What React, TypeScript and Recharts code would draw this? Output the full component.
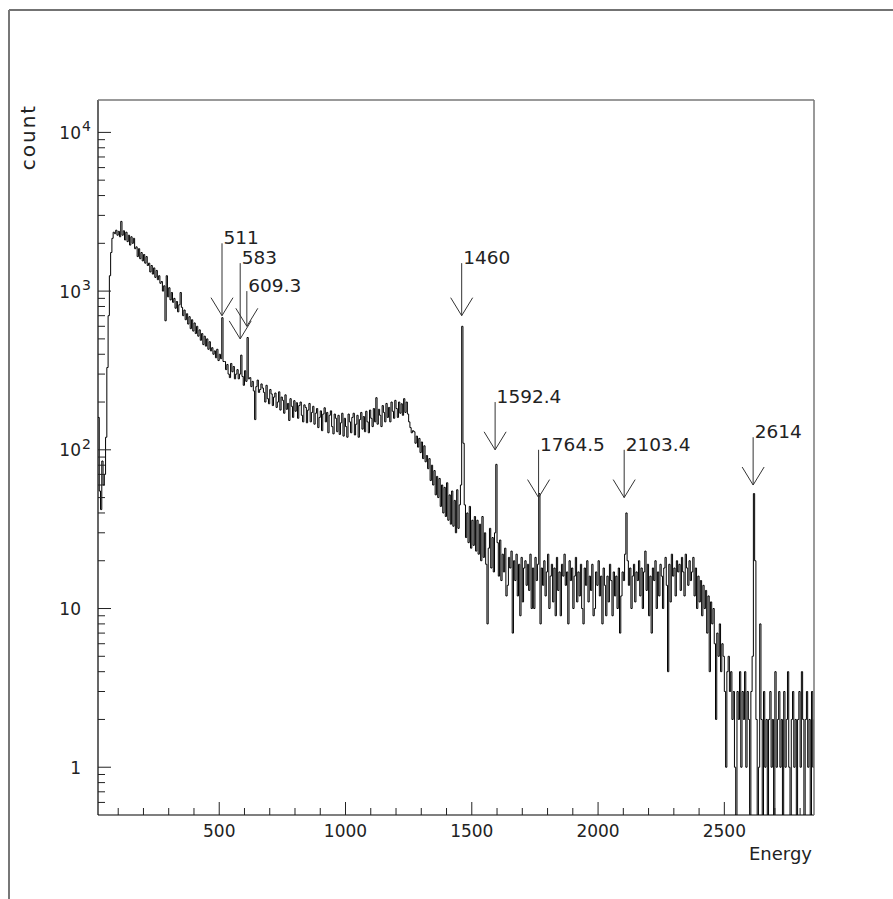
import React from "react";
import { LineChart, Line, XAxis, YAxis, ReferenceLine, ReferenceDot } from "recharts";

// histogram: first bin energy and bin width, counts
const binStart = 20;
const binWidth = 5;
const counts = [
  160, 55, 42, 85, 60, 70, 120, 330, 700, 1250, // 20
  1750, 2150, 2350, 2300, 2420, 2250, 2380, 2200, 2750, 2250, // 70
  2400, 2100, 2350, 2050, 2250, 1950, 2200, 2000, 2150, 1850, // 120
  1900, 1650, 1850, 1600, 1750, 1550, 1700, 1500, 1650, 1450, // 170
  1500, 1320, 1450, 1280, 1400, 1220, 1350, 1180, 1250, 1120, // 220
  1150, 1000, 1080, 650, 1250, 920, 1050, 880, 980, 850, // 270
  900, 780, 860, 740, 820, 980, 790, 700, 760, 660, // 320
  720, 620, 690, 580, 660, 560, 630, 540, 600, 520, // 370
  570, 490, 540, 460, 520, 450, 500, 430, 480, 420, // 420
  440, 400, 420, 380, 430, 365, 400, 375, 680, 360, // 470
  360, 320, 345, 300, 285, 350, 310, 335, 280, 300, // 520
  320, 280, 300, 395, 290, 255, 315, 270, 510, 280, // 570
  285, 250, 270, 235, 155, 250, 275, 230, 240, 260, // 620
  245, 230, 200, 255, 210, 195, 240, 225, 190, 215, // 670
  228, 185, 200, 232, 178, 215, 205, 170, 222, 180, // 720
  196, 153, 210, 188, 160, 204, 175, 198, 158, 190, // 770
  200, 165, 150, 192, 185, 148, 178, 196, 150, 172, // 820
  188, 145, 170, 182, 138, 160, 176, 132, 168, 184, // 870
  150, 172, 128, 165, 176, 140, 126, 168, 158, 130, // 920
  165, 125, 148, 170, 122, 158, 140, 120, 168, 150, // 970
  128, 160, 170, 124, 145, 165, 120, 155, 172, 135, // 1020
  162, 130, 175, 150, 128, 178, 158, 140, 182, 150, // 1070
  213, 145, 180, 165, 140, 190, 172, 150, 196, 160, // 1120
  185, 150, 200, 175, 158, 205, 182, 160, 200, 170, // 1170
  195, 165, 210, 172, 200, 168, 150, 138, 128, 132, // 1220
  130, 110, 122, 104, 118, 96, 112, 88, 106, 84, // 1270
  92, 76, 88, 64, 80, 60, 74, 52, 68, 50, // 1320
  66, 44, 60, 40, 58, 38, 62, 36, 52, 34, // 1370
  55, 33, 48, 30, 56, 32, 45, 60, 600, 110, // 1420
  45, 28, 40, 26, 44, 24, 36, 25, 38, 23, // 1470
  36, 22, 34, 20, 38, 21, 30, 19, 8, 24, // 1520
  32, 18, 28, 17, 30, 81, 26, 16, 27, 15, // 1570
  22, 17, 24, 12, 14, 21, 18, 23, 7, 20, // 1620
  15, 22, 12, 19, 9, 21, 11, 18, 20, 14, // 1670
  19, 13, 22, 10, 18, 10, 21, 15, 19, 53, // 1720
  8, 18, 14, 20, 12, 17, 22, 10, 16, 19, // 1770
  11, 18, 9, 21, 13, 17, 9, 19, 16, 22, // 1820
  14, 17, 8, 20, 15, 18, 10, 16, 21, 11, // 1870
  17, 12, 19, 10, 8, 18, 14, 20, 11, 16, // 1920
  13, 19, 9, 10, 17, 14, 20, 12, 16, 8, // 1970
  18, 14, 9, 16, 11, 19, 15, 9, 17, 12, // 2020
  16, 10, 18, 7, 12, 17, 15, 22, 40, 20, // 2070
  14, 18, 10, 16, 19, 11, 17, 15, 20, 12, // 2120
  18, 10, 17, 23, 13, 19, 9, 16, 7, 18, // 2170
  15, 20, 10, 17, 12, 19, 16, 10, 18, 21, // 2220
  14, 4, 19, 11, 22, 16, 18, 12, 20, 17, // 2270
  19, 13, 21, 17, 12, 22, 18, 14, 20, 15, // 2320
  17, 21, 12, 18, 10, 16, 11, 15, 9, 14, // 2370
  10, 13, 7, 12, 4, 11, 8, 10, 6, 2, // 2420
  7, 5, 8, 4, 6, 5, 3, 1, 4, 5, // 2470
  3, 4, 2, 3, 1, 0, 3, 2, 4, 1, // 2520
  3, 2, 4, 1, 3, 2, 0, 3, 5, 53, // 2570
  20, 2, 0, 1, 8, 2, 0, 3, 1, 2, // 2620
  0, 2, 3, 1, 2, 0, 4, 1, 2, 3, // 2670
  1, 2, 0, 3, 1, 2, 4, 1, 0, 2, // 2720
  3, 1, 2, 0, 2, 3, 1, 4, 2, 0, // 2770
  2, 3, 1, 2, 0, 3, 1, 2, // 2820
];

const xTicks = [100, 200, 300, 400, 500, 600, 700, 800, 900, 1000, 1100, 1200, 1300, 1400, 1500, 1600, 1700, 1800, 1900, 2000, 2100, 2200, 2300, 2400, 2500, 2600, 2700, 2800];
const xLabelled = [500, 1000, 1500, 2000, 2500];
const yTicks = [
  0.6, 0.7, 0.8, 0.9, 1, 2, 3, 4, 5, 6, 7, 8, 9, 10, 20, 30, 40, 50, 60, 70, 80, 90,
  100, 200, 300, 400, 500, 600, 700, 800, 900, 1000, 2000, 3000, 4000, 5000, 6000, 7000, 8000, 9000, 10000,
];

// peak markers: energy, label, arrow tip and arrow top (in counts)
const peakEnergies = [511, 583, 609.3, 1460, 1592.4, 1764.5, 2103.4, 2614];
const peakLabels = ["511", "583", "609.3", "1460", "1592.4", "1764.5", "2103.4", "2614"];
const arrowTips = [700, 500, 600, 700, 100, 50, 50, 60];
const arrowTops = [2000, 1500, 1000, 1500, 200, 100, 100, 120];

const FONT = "'DejaVu Sans', 'Liberation Sans', sans-serif";
const TXT = "#222";

// zero-count bins fall below the axis and get clipped, like the original
const rows = counts.map((c, i) => ({ e: binStart + binWidth * i, c: c > 0 ? c : 0.2 }));

const XTick = (p: any) => {
  const v = p.payload.value;
  const major = xLabelled.includes(v);
  return (
    <g>
      <line x1={p.x} x2={p.x} y1={p.y} y2={p.y - (major ? 13 : 7)} stroke="#222" strokeWidth={1} />
      {major && (
        <text x={p.x} y={p.y + 22} textAnchor="middle" fontSize={17} fontFamily={FONT} fill={TXT}>
          {v}
        </text>
      )}
    </g>
  );
};

const YTick = (p: any) => {
  const v = p.payload.value;
  const exp = Math.round(Math.log10(v));
  const major = Math.abs(Math.log10(v) - exp) < 1e-6;
  let label: any = null;
  if (major) {
    if (exp < 2) {
      label = (
        <text x={p.x - 17} y={p.y + 6.5} textAnchor="end" fontSize={17} fontFamily={FONT} fill={TXT}>
          {v}
        </text>
      );
    } else {
      label = (
        <g>
          <text x={p.x - 17} y={p.y + 6.5} textAnchor="end" fontSize={17} fontFamily={FONT} fill={TXT}>
            10
          </text>
          <text x={p.x - 16} y={p.y - 1} textAnchor="start" fontSize={14} fontFamily={FONT} fill={TXT}>
            {exp}
          </text>
        </g>
      );
    }
  }
  return (
    <g>
      <line x1={p.x} x2={p.x + (major ? 13 : 7)} y1={p.y} y2={p.y} stroke="#222" strokeWidth={1} />
      {label}
    </g>
  );
};

const ArrowHead = (p: any) => (
  <path
    d={`M${p.cx - 11},${p.cy - 18} L${p.cx},${p.cy} L${p.cx + 11},${p.cy - 18}`}
    fill="none"
    stroke="#333"
    strokeWidth={1}
  />
);

const makeLabel = (text: string) => (p: any) => (
  <text x={p.cx + 1.5} y={p.cy + 1} fontSize={18.5} fontFamily={FONT} fill={TXT}>
    {text}
  </text>
);

export default function App() {
  return (
    <div style={{ position: "absolute", left: 0, top: 0, width: 893, height: 899, background: "#fff" }}>
      <LineChart width={893} height={899} data={rows} margin={{ top: 100, right: 79, bottom: 44, left: 38 }}>
        <XAxis
          dataKey="e"
          type="number"
          domain={[20, 2855]}
          allowDataOverflow
          ticks={xTicks}
          interval={0}
          tick={XTick}
          tickLine={false}
          tickSize={0}
          tickMargin={0}
          height={40}
          axisLine={{ stroke: "#000", strokeWidth: 1.2 }}
        />
        <YAxis
          type="number"
          scale="log"
          domain={[0.5, 16000]}
          allowDataOverflow
          ticks={yTicks}
          interval={0}
          tick={YTick}
          tickLine={false}
          tickSize={0}
          tickMargin={0}
          width={60}
          axisLine={{ stroke: "#000", strokeWidth: 1.2 }}
        />
        <Line
          dataKey="c"
          type="stepAfter"
          stroke="#000"
          strokeWidth={1}
          dot={false}
          isAnimationActive={false}
        />
        {peakEnergies.map((e, i) => (
          <ReferenceLine
            key={`l${i}`}
            segment={[{ x: e, y: arrowTops[i] }, { x: e, y: arrowTips[i] }]}
            stroke="#333"
            strokeWidth={1}
          />
        ))}
        {peakEnergies.map((e, i) => (
          <ReferenceDot key={`h${i}`} x={e} y={arrowTips[i]} shape={ArrowHead} />
        ))}
        {peakEnergies.map((e, i) => (
          <ReferenceDot key={`t${i}`} x={e} y={arrowTops[i]} shape={makeLabel(peakLabels[i])} />
        ))}
      </LineChart>
      <svg
        width={893}
        height={899}
        style={{ position: "absolute", left: 0, top: 0, pointerEvents: "none" }}
      >
        <line x1={9} y1={10} x2={893} y2={10} stroke="#444" strokeWidth={1.5} />
        <line x1={9} y1={10} x2={9} y2={899} stroke="#777" strokeWidth={2} />
        <line x1={98} y1={100} x2={814} y2={100} stroke="#777" strokeWidth={1.5} />
        <line x1={814} y1={100} x2={814} y2={815} stroke="#777" strokeWidth={1.5} />
        <text
          x={35}
          y={137}
          transform="rotate(-90 35 137)"
          textAnchor="middle"
          fontSize={20}
          letterSpacing={2}
          fontFamily={FONT}
          fill={TXT}
        >
          count
        </text>
        <text x={812} y={860} textAnchor="end" fontSize={18} fontFamily={FONT} fill={TXT}>
          Energy
        </text>
      </svg>
    </div>
  );
}
